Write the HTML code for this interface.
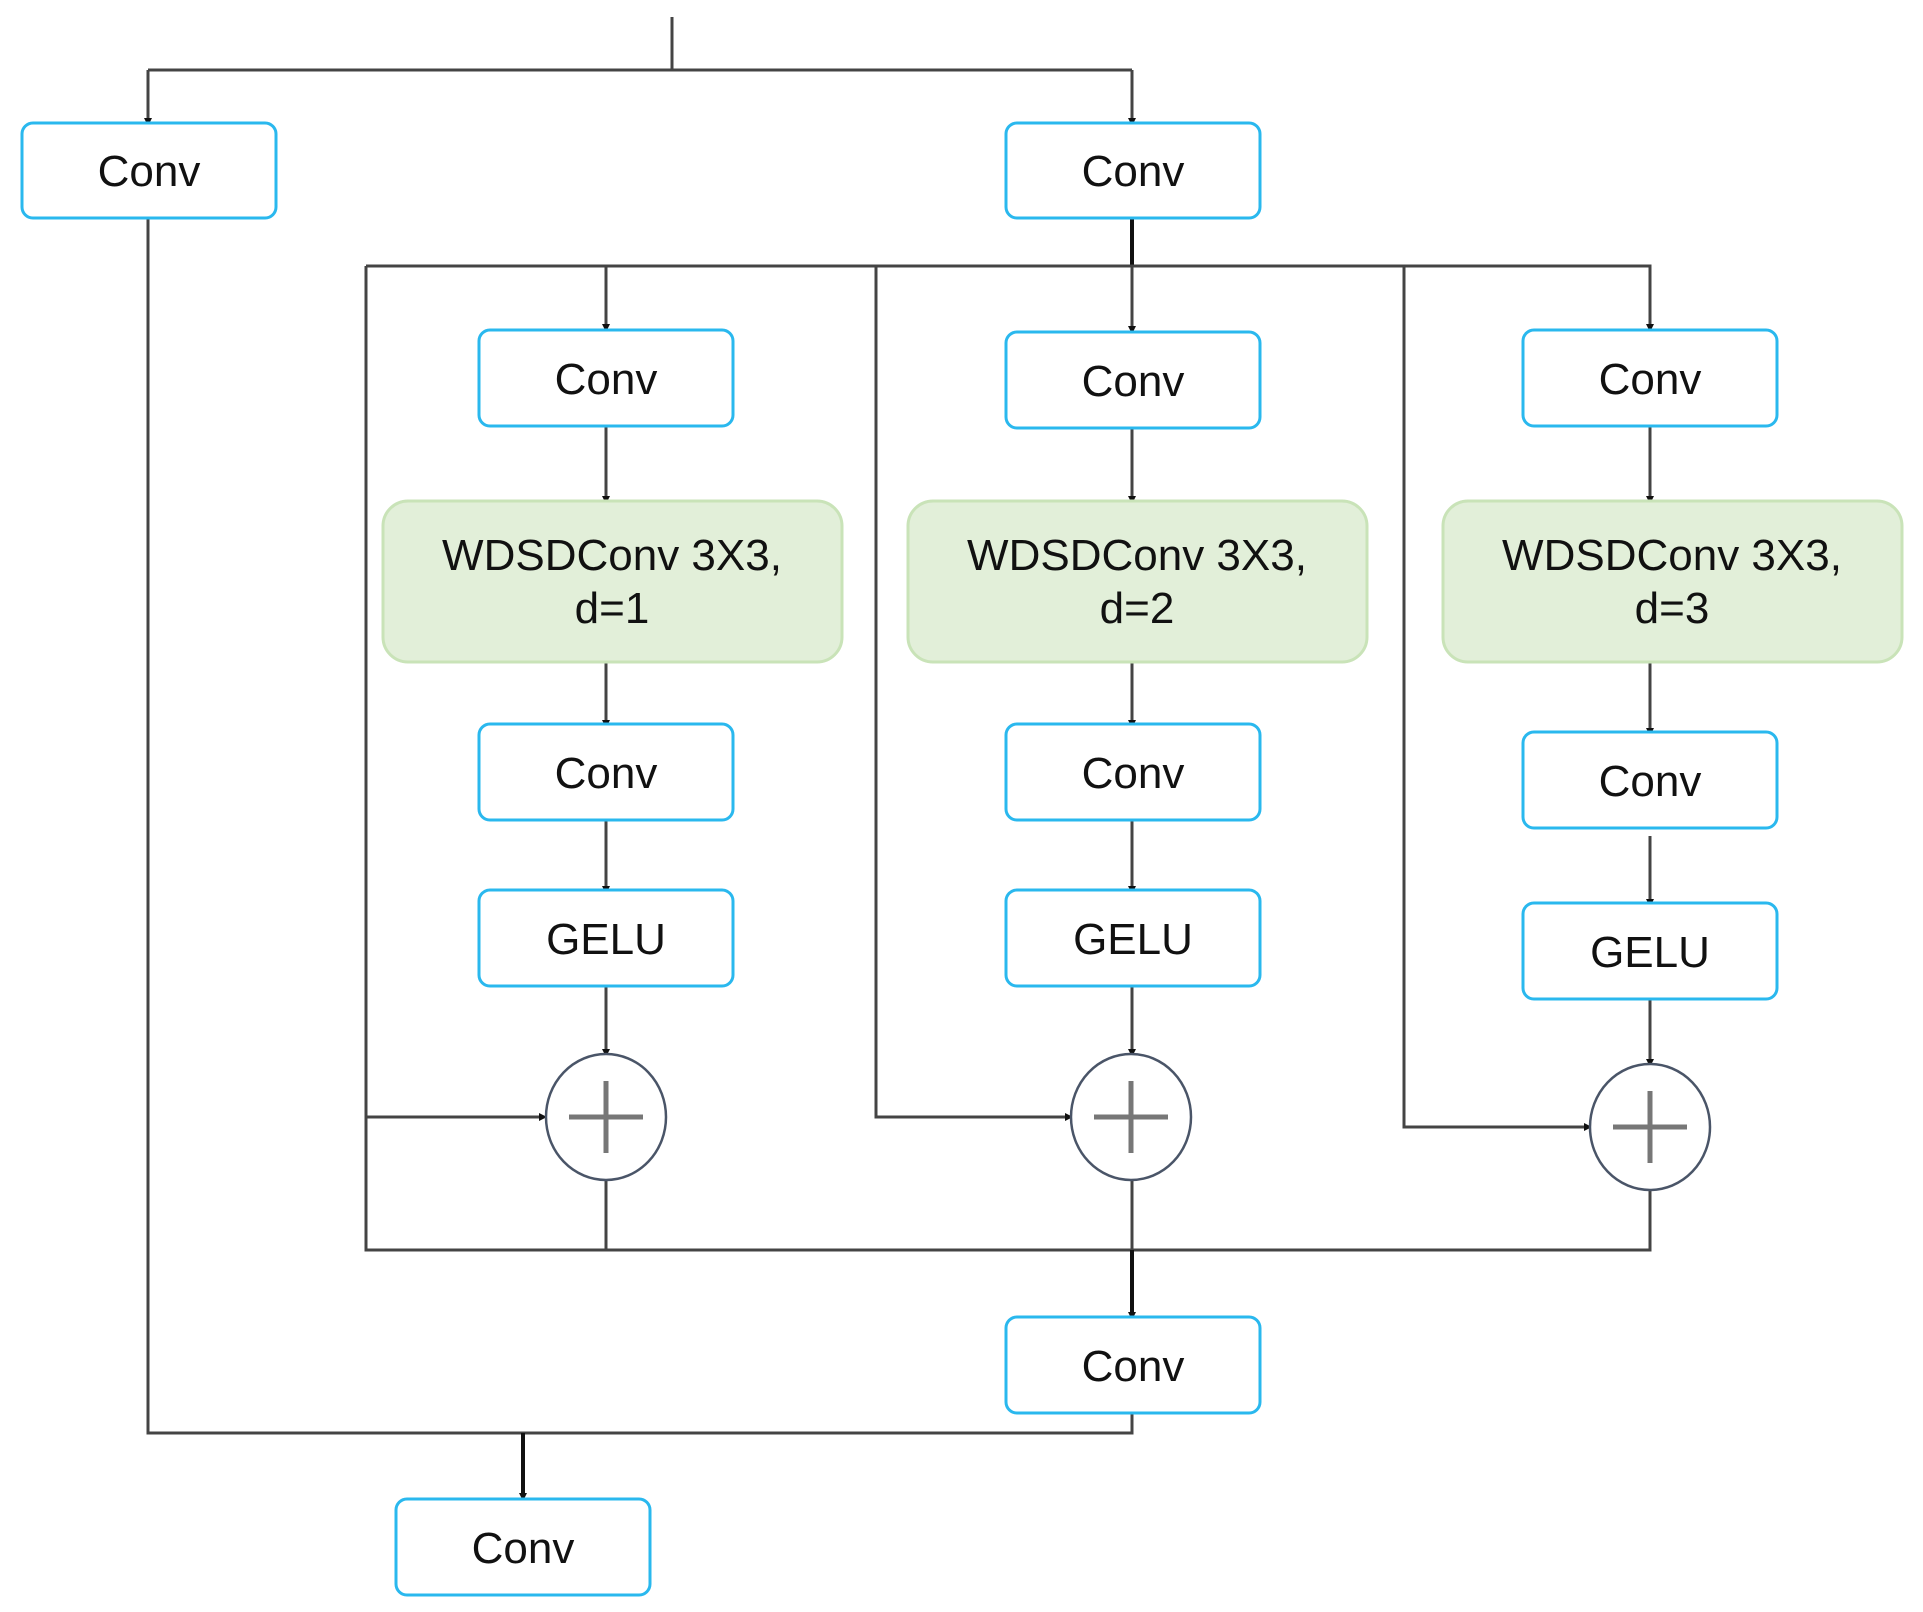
<!DOCTYPE html>
<html><head><style>html,body{margin:0;padding:0;background:#fff}svg{display:block}</style></head><body>
<svg width="1923" height="1612" viewBox="0 0 1923 1612" xmlns="http://www.w3.org/2000/svg" font-family="Liberation Sans, sans-serif">
<defs><marker id="a" markerWidth="8" markerHeight="8" refX="4" refY="4" orient="auto" markerUnits="userSpaceOnUse"><path d="M0,0 L8,4 L0,8 z" fill="#111"/></marker></defs>
<g stroke="#444" stroke-width="3" fill="none">
<path d="M672 17 V70"/>
<path d="M148 70 H1132"/>
<path d="M148 70 V122" marker-end="url(#a)"/>
<path d="M1132 70 V122" marker-end="url(#a)"/>
<path d="M1132 218 V266" stroke="#111" stroke-width="4"/>
<path d="M366 266 H1650 V328" marker-end="url(#a)"/>
<path d="M366 266 V1250 H1650 V1190"/>
<path d="M606 266 V328" marker-end="url(#a)"/>
<path d="M1132 266 V330" marker-end="url(#a)"/>
<path d="M876 266 V1117 H1069" marker-end="url(#a)"/>
<path d="M1404 266 V1127 H1588" marker-end="url(#a)"/>
<path d="M366 1117 H543" marker-end="url(#a)"/>
<path d="M606 1180 V1250"/>
<path d="M1132 1180 V1250"/>
<path d="M1132 1250 V1316" stroke="#111" stroke-width="4" marker-end="url(#a)"/>
<path d="M148 218 V1433 H1132 V1413"/>
<path d="M523 1433 V1497" stroke="#111" stroke-width="4" marker-end="url(#a)"/>
<!-- column arrows -->
<path d="M606 426 V500" marker-end="url(#a)"/><path d="M1132 428 V500" marker-end="url(#a)"/><path d="M1650 426 V500" marker-end="url(#a)"/>
<path d="M606 662 V724" marker-end="url(#a)"/><path d="M1132 662 V724" marker-end="url(#a)"/><path d="M1650 662 V732" marker-end="url(#a)"/>
<path d="M606 820 V890" marker-end="url(#a)"/><path d="M1132 820 V890" marker-end="url(#a)"/><path d="M1650 836 V903" marker-end="url(#a)"/>
<path d="M606 987 V1053" marker-end="url(#a)"/><path d="M1132 987 V1053" marker-end="url(#a)"/><path d="M1650 1000 V1063" marker-end="url(#a)"/>
</g>
<g stroke="#2ab8ee" stroke-width="3" fill="#fff">
<rect x="22" y="123" width="254" height="95" rx="11"/>
<rect x="1006" y="123" width="254" height="95" rx="11"/>
<rect x="479" y="330" width="254" height="96" rx="11"/>
<rect x="1006" y="332" width="254" height="96" rx="11"/>
<rect x="1523" y="330" width="254" height="96" rx="11"/>
<rect x="479" y="724" width="254" height="96" rx="11"/>
<rect x="1006" y="724" width="254" height="96" rx="11"/>
<rect x="1523" y="732" width="254" height="96" rx="11"/>
<rect x="479" y="890" width="254" height="96" rx="11"/>
<rect x="1006" y="890" width="254" height="96" rx="11"/>
<rect x="1523" y="903" width="254" height="96" rx="11"/>
<rect x="1006" y="1317" width="254" height="96" rx="11"/>
<rect x="396" y="1499" width="254" height="96" rx="11"/>
</g>
<g stroke="#c9e3b8" stroke-width="3" fill="#e2efd9">
<rect x="383" y="501" width="459" height="161" rx="25"/>
<rect x="908" y="501" width="459" height="161" rx="25"/>
<rect x="1443" y="501" width="459" height="161" rx="25"/>
</g>
<g stroke="#4a5568" stroke-width="2.5" fill="#fff">
<ellipse cx="606" cy="1117" rx="60" ry="63"/>
<ellipse cx="1131" cy="1117" rx="60" ry="63"/>
<ellipse cx="1650" cy="1127" rx="60" ry="63"/>
</g>
<g stroke="#777" stroke-width="5">
<path d="M569 1117 H643 M606 1081 V1153"/>
<path d="M1094 1117 H1168 M1131 1081 V1153"/>
<path d="M1613 1127 H1687 M1650 1091 V1163"/>
</g>
<g font-size="44" fill="#111" text-anchor="middle">
<text x="149" y="186">Conv</text>
<text x="1133" y="186">Conv</text>
<text x="606" y="394">Conv</text>
<text x="1133" y="396">Conv</text>
<text x="1650" y="394">Conv</text>
<text x="612" y="570">WDSDConv 3X3,</text><text x="612" y="623">d=1</text>
<text x="1137" y="570">WDSDConv 3X3,</text><text x="1137" y="623">d=2</text>
<text x="1672" y="570">WDSDConv 3X3,</text><text x="1672" y="623">d=3</text>
<text x="606" y="788">Conv</text>
<text x="1133" y="788">Conv</text>
<text x="1650" y="796">Conv</text>
<text x="606" y="954">GELU</text>
<text x="1133" y="954">GELU</text>
<text x="1650" y="967">GELU</text>
<text x="1133" y="1381">Conv</text>
<text x="523" y="1563">Conv</text>
</g>
</svg>
</body></html>
